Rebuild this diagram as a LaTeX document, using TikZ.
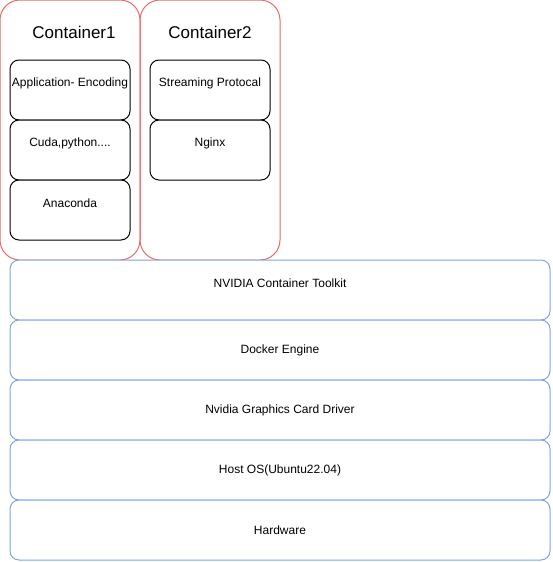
\documentclass[tikz,border=0pt]{standalone}
\usepackage{fontspec}
\setmainfont{Liberation Sans}
\usetikzlibrary{positioning}
\definecolor{boxred}{HTML}{EA6B66}
\definecolor{boxblue}{HTML}{7EA6E0}

\begin{document}
\begin{tikzpicture}[x=1pt,y=-1pt,node distance=0pt,line width=1pt,
    container/.style={draw=boxred,rounded corners=20pt,minimum width=140pt,minimum height=260pt,inner sep=0pt,outer sep=0pt},
    part node/.style={draw=black,fill=white,rounded corners=9pt,minimum width=120pt,minimum height=60pt,inner sep=0pt,outer sep=0pt},
    layer node/.style={draw=boxblue,fill=white,rounded corners=9pt,minimum width=540pt,minimum height=60pt,inner sep=0pt,outer sep=0pt,font=\fontsize{12}{14}\selectfont},
    top text/.style={label={[anchor=center,yshift=-23pt,font=\fontsize{12}{14}\selectfont]north:{#1}}},
    title/.style={font=\fontsize{17}{20}\selectfont}]

  \useasboundingbox (0,0) rectangle (552,562);

  % containers
  \node[container] (cont1) at (70,130) {};
  \node[container] (cont2) [right=of cont1] {};
  \node[title] (title1) at (74,32) {Container1};
  \node[title] (title2) at (210,32) {Container2};

  \node[part node,top text={Application- Encoding}] (app) at (70,90) {};
  \node[part node,top text={Cuda,python....}] (cuda) [below=of app] {};
  \node[part node,top text={Anaconda}] (conda) [below=of cuda] {};

  \node[part node,top text={Streaming Protocal}] (stream) at (210,90) {};
  \node[part node,top text={Nginx}] (nginx) [below=of stream] {};

  % host layers
  \node[layer node,top text={NVIDIA Container Toolkit}] (toolkit) at (280,290) {};
  \node[layer node] (docker) [below=of toolkit] {Docker Engine};
  \node[layer node] (driver) [below=of docker] {Nvidia Graphics Card Driver};
  \node[layer node] (hostos) [below=of driver] {Host OS(Ubuntu22.04)};
  \node[layer node] (hw) [below=of hostos] {Hardware};
\end{tikzpicture}
\end{document}
